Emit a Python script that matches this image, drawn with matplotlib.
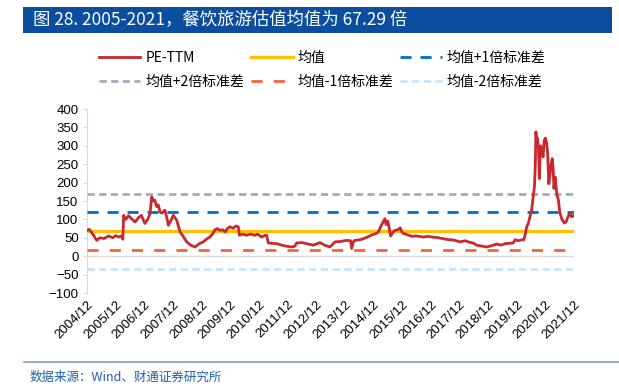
import matplotlib
matplotlib.use("Agg")
import matplotlib.pyplot as plt
from matplotlib.patches import Rectangle
from matplotlib.lines import Line2D

plt.rcParams['font.family'] = ['Liberation Sans', 'Noto Sans CJK SC', 'DejaVu Sans']

# PE-TTM series (fractional year, multiple)
t = [2005.00, 2005.08, 2005.20, 2005.34, 2005.45, 2005.60, 2005.75, 2005.90, 2006.00, 2006.10,
     2006.20, 2006.25, 2006.28, 2006.35, 2006.45, 2006.55, 2006.68, 2006.80, 2006.90, 2007.02,
     2007.12, 2007.20, 2007.26, 2007.32, 2007.37, 2007.43, 2007.49, 2007.55, 2007.61, 2007.72,
     2007.80, 2007.84, 2007.95, 2008.01, 2008.13, 2008.25, 2008.35, 2008.48, 2008.62, 2008.77,
     2008.94, 2009.06, 2009.20, 2009.29, 2009.40, 2009.47, 2009.55, 2009.64, 2009.73, 2009.82,
     2009.90, 2009.99, 2010.10, 2010.20, 2010.28, 2010.32, 2010.45, 2010.57, 2010.70, 2010.86,
     2010.95, 2011.10, 2011.20, 2011.27, 2011.33, 2011.50, 2011.62, 2011.80, 2011.97, 2012.14,
     2012.25, 2012.32, 2012.50, 2012.67, 2012.80, 2012.90, 2013.00, 2013.13, 2013.30, 2013.48,
     2013.66, 2013.85, 2014.06, 2014.20, 2014.24, 2014.30, 2014.35, 2014.55, 2014.76, 2014.95,
     2015.10, 2015.17, 2015.28, 2015.34, 2015.40, 2015.44, 2015.50, 2015.56, 2015.60, 2015.68,
     2015.75, 2015.85, 2015.93, 2016.00, 2016.04, 2016.20, 2016.33, 2016.50, 2016.74, 2016.90,
     2017.05, 2017.20, 2017.40, 2017.61, 2017.80, 2018.02, 2018.20, 2018.35, 2018.48, 2018.60,
     2018.80, 2018.95, 2019.10, 2019.30, 2019.45, 2019.60, 2019.75, 2019.88, 2019.95, 2020.05,
     2020.15, 2020.25, 2020.30, 2020.35, 2020.40, 2020.46, 2020.52, 2020.58, 2020.62, 2020.65,
     2020.67, 2020.70, 2020.73, 2020.76, 2020.79, 2020.83, 2020.88, 2020.92, 2020.96, 2021.00,
     2021.04, 2021.08, 2021.12, 2021.16, 2021.20, 2021.24, 2021.27, 2021.30, 2021.34, 2021.40,
     2021.46, 2021.50, 2021.58, 2021.66, 2021.72, 2021.79, 2021.85, 2021.92, 2022.00]
pe = [70, 73, 60, 43, 50, 48, 55, 50, 56, 52,
      55, 46, 111, 100, 110, 102, 93, 105, 111, 89,
      100, 116, 161, 150, 152, 135, 139, 120, 117, 125,
      100, 84, 100, 111, 98, 66, 55, 39, 30, 25,
      35, 39, 48, 52, 62, 72, 75, 70, 72, 66,
      75, 80, 76, 82, 80, 57, 60, 57, 60, 57,
      60, 52, 56, 57, 36, 35, 34, 30, 27, 25,
      27, 36, 37, 34, 32, 30, 33, 37, 30, 25,
      39, 40, 43, 42, 21, 40, 43, 45, 51, 58,
      62, 66, 85, 93, 102, 86, 95, 72, 55, 65,
      70, 72, 77, 65, 62, 58, 54, 55, 52, 54,
      52, 51, 48, 45, 44, 39, 42, 38, 36, 30,
      27, 25, 28, 33, 30, 34, 35, 36, 45, 42,
      44, 45, 60, 80, 88, 107, 125, 165, 190, 250,
      338, 310, 320, 290, 211, 300, 290, 270, 315, 321,
      310, 280, 197, 220, 250, 265, 240, 184, 215, 170,
      150, 120, 100, 90, 93, 107, 116, 107, 111]

mean_pe = 67.29
std_pe = 51.5
years = list(range(2004, 2022))
tick_labels = [f"{y}/12" for y in years]
yticks = [-100, -50, 0, 50, 100, 150, 200, 250, 300, 350, 400]

W, H = 619, 387
fig = plt.figure(figsize=(W / 100, H / 100), dpi=100)

# title bar
fig.patches.append(Rectangle((23 / W, 1 - 33 / H), (612 - 23) / W, 26 / H,
                             transform=fig.transFigure, facecolor='#0B4EA0',
                             edgecolor='none'))
fig.text(33 / W, 1 - 20 / H, "图 28. 2005-2021，餐饮旅游估值均值为 67.29 倍",
         color='white', fontsize=12.5, va='center', ha='left',
         family=['Noto Sans CJK SC', 'DejaVu Sans'])

ax = fig.add_axes([87 / W, 1 - 293 / H, (574 - 87) / W, (293 - 109) / H])

ax.axhline(0, color='#D9D9D9', lw=1, zorder=1)
h_pe, = ax.plot(t, pe, color='#C8282E', lw=2.0, zorder=5, label='PE-TTM')
h_m = ax.axhline(mean_pe, color='#FFC000', lw=2.4, zorder=4, label='均值')
h_p1 = ax.axhline(mean_pe + std_pe, color='#0070C0', lw=2.0, dashes=(4, 3.2),
                  zorder=3, label='均值+1倍标准差')
h_p2 = ax.axhline(mean_pe + 2 * std_pe, color='#A5ABB7', lw=2.0, dashes=(2.6, 1.6),
                  zorder=3, label='均值+2倍标准差')
h_m1 = ax.axhline(mean_pe - std_pe, color='#F4653C', lw=2.0, dashes=(4, 4),
                  zorder=3, label='均值-1倍标准差')
h_m2 = ax.axhline(mean_pe - 2 * std_pe, color='#C9E4FA', lw=2.0, dashes=(2.6, 1.6),
                  zorder=3, label='均值-2倍标准差')

ax.set_xlim(2005.0, 2022.0)
ax.set_ylim(-100, 400)
ax.set_yticks(yticks)
ax.set_xticks([y + 1 for y in years])
ax.set_xticklabels(tick_labels, rotation=45, ha='right', rotation_mode='anchor')
ax.tick_params(axis='x', length=0, pad=4, labelsize=9.5)
ax.tick_params(axis='y', length=3, color='#D9D9D9', labelsize=9.5, pad=3)
for s in ['top', 'right', 'bottom']:
    ax.spines[s].set_visible(False)
ax.spines['left'].set_color('#D9D9D9')

handles = [h_pe, h_p2, h_m, h_m1, h_p1, h_m2]
leg = fig.legend(handles=handles, ncol=3, loc='center',
                 bbox_to_anchor=(322 / W, 1 - 70 / H), frameon=False,
                 prop={'family': ['Noto Sans CJK SC', 'DejaVu Sans'], 'size': 10},
                 handlelength=3.0, handletextpad=0.35, columnspacing=0.5,
                 labelspacing=0.75, borderpad=0)

# footer
fig.add_artist(Line2D([24 / W, 1.0], [1 - 362 / H, 1 - 362 / H],
                      transform=fig.transFigure, color='#7F9ED0', lw=1.2))
fig.text(30 / W, 1 - 377 / H, "数据来源：Wind、财通证券研究所", color='#1F5FAF',
         fontsize=9, va='center', ha='left',
         family=['Noto Sans CJK SC', 'DejaVu Sans'])

fig.savefig("out.png", dpi=100)
